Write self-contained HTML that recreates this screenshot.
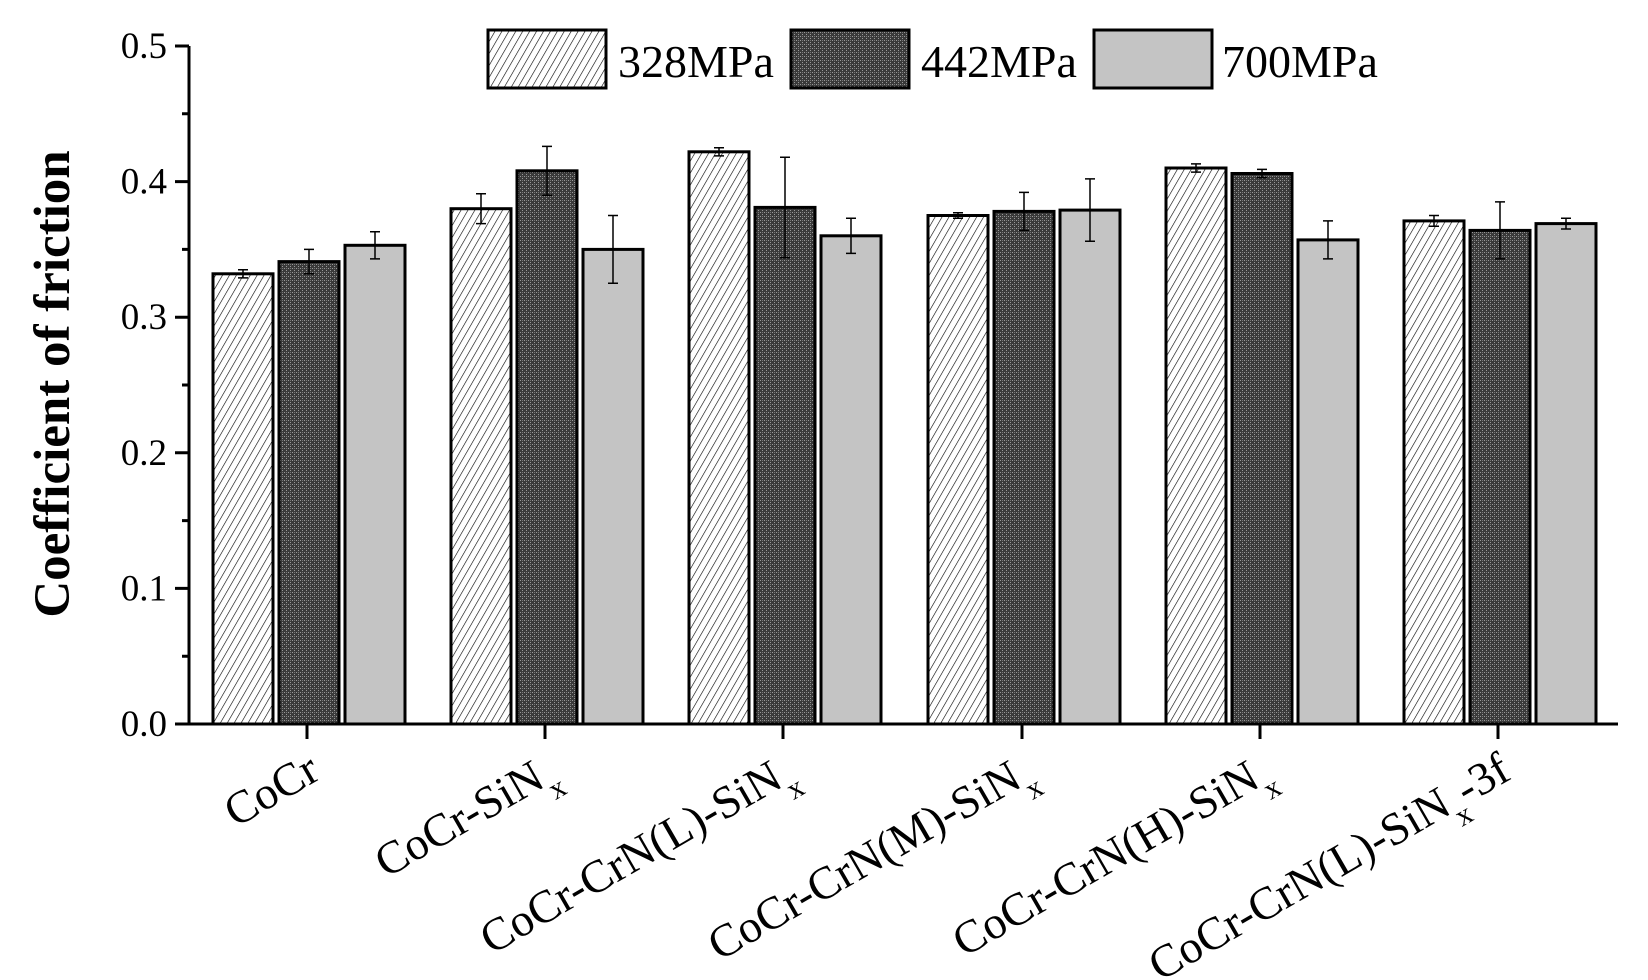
<!DOCTYPE html>
<html><head><meta charset="utf-8"><style>html,body{margin:0;padding:0;background:#fff}svg{display:block}</style></head>
<body>
<svg width="1648" height="980" viewBox="0 0 1648 980" xmlns="http://www.w3.org/2000/svg" font-family="'Liberation Serif', serif">
<defs>
<pattern id="hatch" width="6" height="10" patternUnits="userSpaceOnUse" patternTransform="rotate(30)">
<rect width="6" height="10" fill="#fff"/><line x1="0" y1="0" x2="0" y2="10" stroke="#000" stroke-width="1.2"/>
</pattern>
<pattern id="dots" width="4" height="4" patternUnits="userSpaceOnUse">
<rect width="4" height="4" fill="#3a3a3a"/><rect x="0" y="0" width="1" height="1" fill="#999"/><rect x="2" y="2" width="1" height="1" fill="#999"/><rect x="2" y="0" width="1" height="1" fill="#777"/>
</pattern>
</defs>
<g stroke="#000" stroke-width="3">
<rect x="213" y="273.8" width="60" height="450.2" fill="url(#hatch)"/>
<rect x="279" y="261.6" width="60" height="462.4" fill="url(#dots)"/>
<rect x="345" y="245.3" width="60" height="478.7" fill="#c4c4c4"/>
<rect x="451" y="208.7" width="60" height="515.3" fill="url(#hatch)"/>
<rect x="517" y="170.8" width="60" height="553.2" fill="url(#dots)"/>
<rect x="583" y="249.4" width="60" height="474.6" fill="#c4c4c4"/>
<rect x="689" y="151.8" width="60" height="572.2" fill="url(#hatch)"/>
<rect x="755" y="207.4" width="60" height="516.6" fill="url(#dots)"/>
<rect x="821" y="235.8" width="60" height="488.2" fill="#c4c4c4"/>
<rect x="928" y="215.5" width="60" height="508.5" fill="url(#hatch)"/>
<rect x="994" y="211.4" width="60" height="512.6" fill="url(#dots)"/>
<rect x="1060" y="210.1" width="60" height="513.9" fill="#c4c4c4"/>
<rect x="1166" y="168" width="60" height="556" fill="url(#hatch)"/>
<rect x="1232" y="173.5" width="60" height="550.5" fill="url(#dots)"/>
<rect x="1298" y="239.9" width="60" height="484.1" fill="#c4c4c4"/>
<rect x="1404" y="220.9" width="60" height="503.1" fill="url(#hatch)"/>
<rect x="1470" y="230.4" width="60" height="493.6" fill="url(#dots)"/>
<rect x="1536" y="223.6" width="60" height="500.4" fill="#c4c4c4"/>
</g>
<g stroke="#000" stroke-width="1.5" fill="none">
<path d="M243 269.7V277.9M238 269.7h10M238 277.9h10"/>
<path d="M309 249.4V273.8M304 249.4h10M304 273.8h10"/>
<path d="M375 231.7V258.9M370 231.7h10M370 258.9h10"/>
<path d="M481 193.8V223.6M476 193.8h10M476 223.6h10"/>
<path d="M547 146.4V195.2M542 146.4h10M542 195.2h10"/>
<path d="M613 215.5V283.3M608 215.5h10M608 283.3h10"/>
<path d="M719 147.7V155.9M714 147.7h10M714 155.9h10"/>
<path d="M785 157.2V257.6M780 157.2h10M780 257.6h10"/>
<path d="M851 218.2V253.4M846 218.2h10M846 253.4h10"/>
<path d="M958 212.8V218.2M953 212.8h10M953 218.2h10"/>
<path d="M1024 192.4V230.4M1019 192.4h10M1019 230.4h10"/>
<path d="M1090 178.9V241.3M1085 178.9h10M1085 241.3h10"/>
<path d="M1196 163.9V172.1M1191 163.9h10M1191 172.1h10"/>
<path d="M1262 169.4V177.6M1257 169.4h10M1257 177.6h10"/>
<path d="M1328 220.9V258.9M1323 220.9h10M1323 258.9h10"/>
<path d="M1434 215.5V226.3M1429 215.5h10M1429 226.3h10"/>
<path d="M1500 201.9V258.9M1495 201.9h10M1495 258.9h10"/>
<path d="M1566 218.2V229M1561 218.2h10M1561 229h10"/>
</g>
<g stroke="#000" stroke-width="3" fill="none">
<path d="M189 46V724H1618"/>
<path d="M175 724H189M182 656.2H189M175 588.4H189M182 520.6H189M175 452.8H189M182 385H189M175 317.2H189M182 249.4H189M175 181.6H189M182 113.8H189M175 46H189"/>
<path d="M307 724V739M545 724V739M783 724V739M1022 724V739M1260 724V739M1498 724V739"/>
</g>
<g font-size="37" text-anchor="end">
<text x="167" y="736">0.0</text>
<text x="167" y="600.4">0.1</text>
<text x="167" y="464.8">0.2</text>
<text x="167" y="329.2">0.3</text>
<text x="167" y="193.6">0.4</text>
<text x="167" y="58">0.5</text>
</g>
<g font-size="46" text-anchor="end">
<text transform="translate(322,778) rotate(-30)">CoCr</text>
<text transform="translate(560,778) rotate(-30)">CoCr-SiN<tspan baseline-shift="sub" font-size="30">x</tspan></text>
<text transform="translate(798,778) rotate(-30)">CoCr-CrN(L)-SiN<tspan baseline-shift="sub" font-size="30">x</tspan></text>
<text transform="translate(1037,778) rotate(-30)">CoCr-CrN(M)-SiN<tspan baseline-shift="sub" font-size="30">x</tspan></text>
<text transform="translate(1275,778) rotate(-30)">CoCr-CrN(H)-SiN<tspan baseline-shift="sub" font-size="30">x</tspan></text>
<text transform="translate(1513,778) rotate(-30)">CoCr-CrN(L)-SiN<tspan baseline-shift="sub" font-size="30">x</tspan>-3f</text>
</g>
<text transform="translate(69,384) rotate(-90)" text-anchor="middle" font-size="51" font-weight="bold">Coefficient of friction</text>
<rect x="488" y="30" width="118" height="58" fill="url(#hatch)" stroke="#000" stroke-width="3"/>
<text x="618" y="77" font-size="46">328MPa</text>
<rect x="791" y="30" width="118" height="58" fill="url(#dots)" stroke="#000" stroke-width="3"/>
<text x="921" y="77" font-size="46">442MPa</text>
<rect x="1094" y="30" width="118" height="58" fill="#c4c4c4" stroke="#000" stroke-width="3"/>
<text x="1222" y="77" font-size="46">700MPa</text>
</svg>
</body></html>
